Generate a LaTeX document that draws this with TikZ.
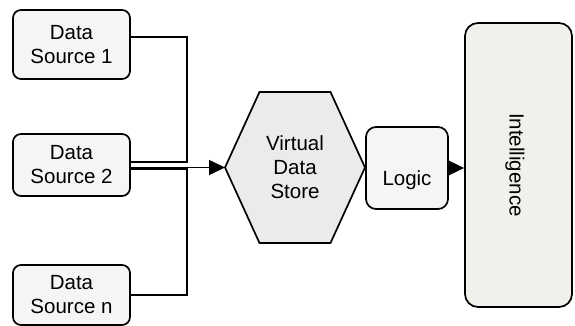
\documentclass[tikz,border=0pt]{standalone}
\usepackage{fontspec}
\setmainfont{Liberation Sans}
\usetikzlibrary{arrows.meta,calc}
\definecolor{boxfill}{HTML}{F5F5F5}
\definecolor{hexfill}{HTML}{EBEBEB}
\definecolor{intfill}{HTML}{F1F0EB}
\begin{document}
\begin{tikzpicture}[x=1pt,y=-1pt,
  txt/.style={font=\fontsize{20.5}{24}\selectfont, align=center, text=black},
  srcbox/.style={txt, draw=black, line width=1.7pt, fill=boxfill, rounded corners=8pt,
     minimum width=117pt, inner sep=0pt},
  conn/.style={draw=black, line width=1.6pt},
  arr/.style={conn, -{Triangle[length=16pt,width=15pt]}}]
\useasboundingbox (0,0) rectangle (575,326);
% data sources
\node[srcbox, minimum height=69pt] (ds1) at (71.5,44.5) {Data\\Source 1};
\node[srcbox, minimum height=62pt] (ds2) at (71.5,165) {Data\\Source 2};
\node[srcbox, minimum height=60pt] (dsn) at (71.5,295) {Data\\Source n};
% hexagon
\coordinate (hL) at (225,167.5);
\coordinate (hTL) at (259.5,92);
\coordinate (hTR) at (330.5,92);
\coordinate (hR) at (365,167.5);
\coordinate (hBR) at (330.5,243);
\coordinate (hBL) at (259.5,243);
\draw[line width=1.7pt, fill=hexfill, line join=miter] (hL) -- (hTL) -- (hTR) -- (hR) -- (hBR) -- (hBL) -- cycle;
\node[txt] (hex) at (295,167.5) {Virtual\\Data\\Store};
% logic
\node[txt, draw=black, line width=1.7pt, fill=boxfill, rounded corners=10pt,
  minimum width=82pt, minimum height=82pt, inner sep=0pt] (logic) at (407,168) {};
\node[txt] (logictxt) at (407,180) {Logic};
% intelligence
\node[txt, draw=black, line width=1.7pt, fill=intfill, rounded corners=13pt,
  minimum width=107pt, minimum height=284pt, inner sep=0pt] (intel) at (518.5,165) {};
\node[txt, rotate=-90] (inteltxt) at (515,165) {Intelligence};
% connectors
\coordinate (j1) at (187,37);
\coordinate (j2) at (187,162);
\coordinate (j3) at (187,295);
\coordinate (j4) at (187,169);
\draw[conn] (ds1.east |- j1) -- (j1) -- (j2) -- (ds2.east |- j2);
\draw[conn] (dsn.east |- j3) -- (j3) -- (j4) -- (ds2.east |- j4);
\draw[arr] (ds2.east |- hL) -- (hL);
\draw[arr] (logic.east) -- (logic.east -| intel.west);
\end{tikzpicture}
\end{document}
